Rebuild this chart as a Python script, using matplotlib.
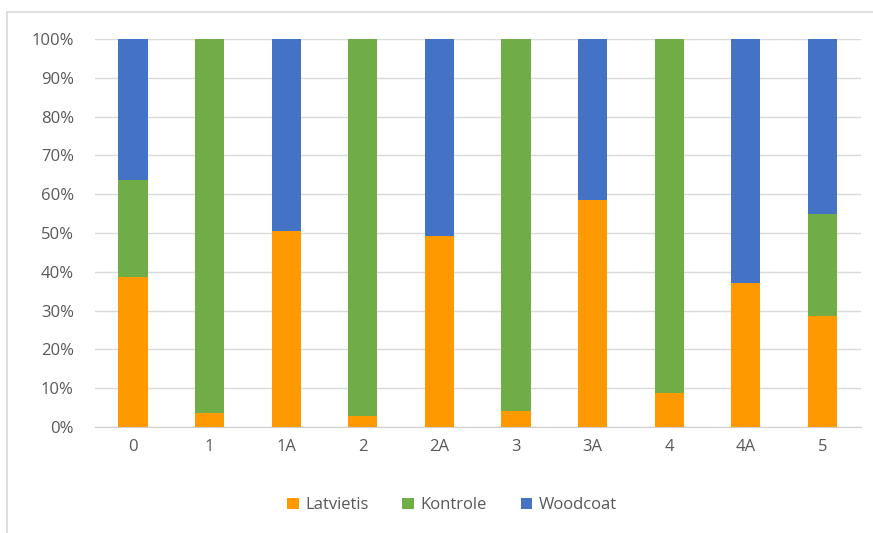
import matplotlib
matplotlib.use("Agg")
import matplotlib.pyplot as plt
from matplotlib.lines import Line2D
from matplotlib.ticker import PercentFormatter

categories = ["0", "1", "1A", "2", "2A", "3", "3A", "4", "4A", "5"]
latvietis = [38.7, 3.7, 50.4, 2.8, 49.2, 4.1, 58.6, 8.8, 37.1, 28.6]
kontrole = [25.0, 96.3, 0.0, 97.2, 0.0, 95.9, 0.0, 91.2, 0.0, 26.3]
woodcoat = [36.3, 0.0, 49.6, 0.0, 50.8, 0.0, 41.4, 0.0, 62.9, 45.1]
series_names = ["Latvietis", "Kontrole", "Woodcoat"]
colors = ["#FF9900", "#70AD47", "#4472C4"]

plt.rcParams["font.family"] = ["Open Sans", "DejaVu Sans"]
text_color = "#595959"

fig = plt.figure(figsize=(8.73, 5.33), dpi=100)
ax = fig.add_axes([0.1085, 0.199, 0.8775, 0.728])

x = list(range(len(categories)))
bottom = [0.0] * len(categories)
for name, vals, c in zip(series_names, [latvietis, kontrole, woodcoat], colors):
    ax.bar(x, vals, width=0.38, bottom=bottom, color=c, label=name, zorder=3)
    bottom = [b + v for b, v in zip(bottom, vals)]

ax.set_xlim(-0.5, len(categories) - 0.5)
ax.set_ylim(0, 100)
ax.set_yticks(range(0, 101, 10))
ax.yaxis.set_major_formatter(PercentFormatter(decimals=0))
ax.set_xticks(x)
ax.set_xticklabels(categories)
ax.grid(axis="y", color="#D9D9D9", linewidth=1, zorder=0)
for side in ["top", "right", "left"]:
    ax.spines[side].set_visible(False)
ax.spines["bottom"].set_color("#D0D0D0")
ax.tick_params(axis="both", length=0, colors=text_color, labelsize=12)
ax.tick_params(axis="y", pad=15)
ax.tick_params(axis="x", pad=9)

leg = fig.legend(loc="center", bbox_to_anchor=(0.518, 0.052), ncol=3, frameon=False,
                 fontsize=12, handlelength=0.7, handleheight=0.7,
                 handletextpad=0.4, columnspacing=2.0)
for t in leg.get_texts():
    t.set_color(text_color)

# chart frame edges
fig.add_artist(Line2D([7 / 873, 7 / 873], [0, 1 - 12 / 533], color="#D9D9D9", linewidth=1.2))
fig.add_artist(Line2D([7 / 873, 1], [1 - 12 / 533, 1 - 12 / 533], color="#D9D9D9", linewidth=1.2))

fig.savefig("out.png", dpi=100, facecolor="white")
